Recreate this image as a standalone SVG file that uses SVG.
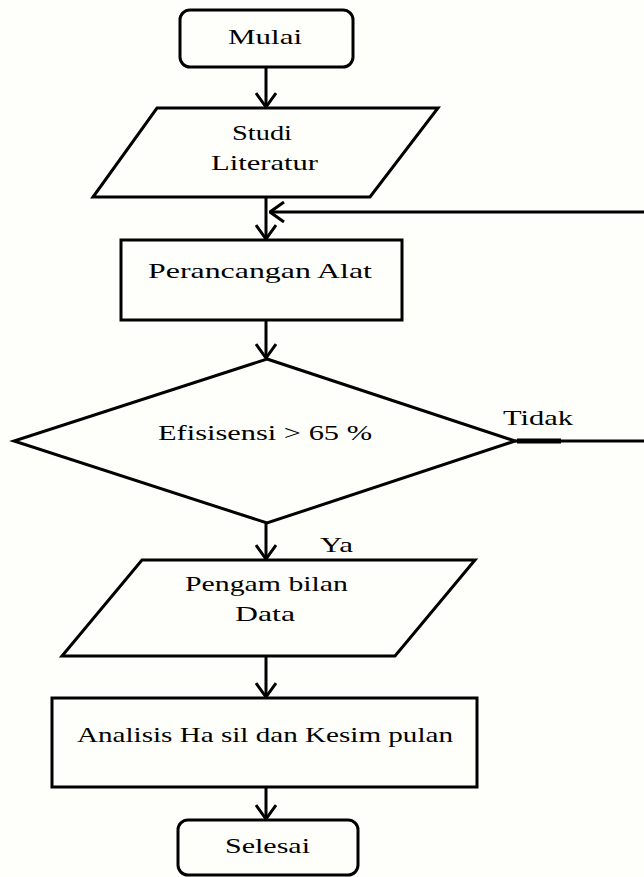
<svg xmlns="http://www.w3.org/2000/svg" width="644" height="877" viewBox="0 0 644 877">
<defs>
<style>
.s{fill:#fefefb;stroke:#000;stroke-width:3;stroke-linejoin:miter}
.c{fill:none;stroke:#000;stroke-width:3}
.t{font-family:"Liberation Serif","Times New Roman",serif;font-size:22px;fill:#000}
</style>
<marker id="ah" viewBox="0 0 16 22" refX="15" refY="11" markerWidth="16" markerHeight="22" markerUnits="userSpaceOnUse" orient="auto">
<path d="M1,1 L15,11 L1,21" fill="none" stroke="#000" stroke-width="3"/>
</marker>
</defs>
<rect width="644" height="877" fill="#fefefb"/>
<g id="mulai">
<rect class="s" x="180" y="10" width="173" height="57" rx="10"/>
<text class="t" x="228" y="44" textLength="74" lengthAdjust="spacingAndGlyphs">Mulai</text>
</g>
<g id="studi">
<polygon class="s" points="157,108 438,108 370,197 93,197"/>
<text class="t" x="232" y="140" textLength="60" lengthAdjust="spacingAndGlyphs">Studi</text>
<text class="t" x="211" y="170" textLength="107" lengthAdjust="spacingAndGlyphs">Literatur</text>
</g>
<g id="perancangan">
<rect class="s" x="121" y="240" width="281" height="80"/>
<text class="t" x="148" y="278" textLength="224" lengthAdjust="spacingAndGlyphs">Perancangan Alat</text>
</g>
<g id="efisiensi">
<polygon class="s" points="267,359 515,441 267,523 14,441"/>
<text class="t" x="158" y="440" textLength="214" lengthAdjust="spacingAndGlyphs">Efisisensi &gt; 65 %</text>
</g>
<g id="pengambilan">
<polygon class="s" points="142,560 475,560 395,656 62,656"/>
<text class="t" x="185" y="591" textLength="163" lengthAdjust="spacingAndGlyphs">Pengam bilan</text>
<text class="t" x="235" y="621" textLength="60" lengthAdjust="spacingAndGlyphs">Data</text>
</g>
<g id="analisis">
<rect class="s" x="52" y="698" width="425" height="89"/>
<text class="t" x="77" y="742" textLength="376" lengthAdjust="spacingAndGlyphs">Analisis Ha sil dan Kesim pulan</text>
</g>
<g id="selesai">
<rect class="s" x="178" y="820" width="180" height="55" rx="10"/>
<text class="t" x="225" y="853" textLength="85" lengthAdjust="spacingAndGlyphs">Selesai</text>
</g>
<g id="connectors">
<line class="c" x1="266" y1="67" x2="266" y2="107" marker-end="url(#ah)"/>
<line class="c" x1="266" y1="197" x2="266" y2="239" marker-end="url(#ah)"/>
<line class="c" x1="266" y1="320" x2="266" y2="358" marker-end="url(#ah)"/>
<line class="c" x1="266" y1="523" x2="266" y2="559" marker-end="url(#ah)"/>
<line class="c" x1="266" y1="656" x2="266" y2="697" marker-end="url(#ah)"/>
<line class="c" x1="266" y1="787" x2="266" y2="819" marker-end="url(#ah)"/>
<line class="c" x1="644" y1="212" x2="270" y2="212" marker-end="url(#ah)"/>
<line class="c" x1="515" y1="441" x2="644" y2="441"/>
<line x1="517" y1="441" x2="561" y2="441" stroke="#000" stroke-width="5"/>
<text class="t" x="503" y="425" textLength="70" lengthAdjust="spacingAndGlyphs">Tidak</text>
<text class="t" x="320" y="552" textLength="33" lengthAdjust="spacingAndGlyphs">Ya</text>
</g>
</svg>
